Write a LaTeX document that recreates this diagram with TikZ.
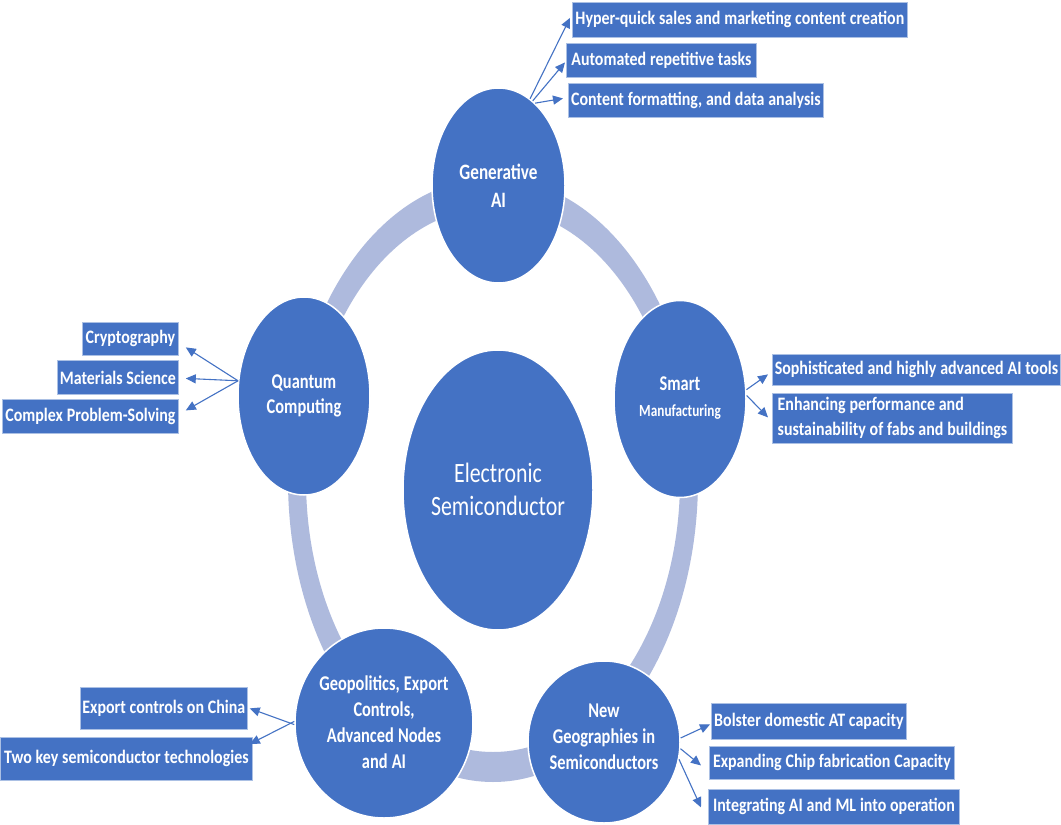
\documentclass[tikz,border=0pt]{standalone}
\usepackage{fontspec}
\usetikzlibrary{shapes.geometric,arrows.meta,calc}
\newfontfamily\lab{Carlito}[FakeStretch=0.84]
\newfontfamily\blab{Carlito}[FakeStretch=0.78]
\newcommand{\labsp}{\spaceskip=0.2em plus 0.05em minus 0.05em\relax}
\definecolor{nodeblue}{RGB}{68,114,196}
\definecolor{ringc}{RGB}{174,186,221}
\tikzset{
  bubble/.style={ellipse, fill=nodeblue, draw=white, line width=1.5pt, inner sep=0pt},
  btext/.style={text=white, align=center, inner sep=0pt,
    font=\blab\bfseries\fontsize{21}{26}\selectfont\labsp},
  lbox/.style={rectangle, fill=nodeblue, draw=white!55!nodeblue, line width=0.8pt,
    text=white, anchor=north west, inner xsep=2pt, inner ysep=0pt, align=center,
    font=\lab\bfseries\fontsize{19}{24}\selectfont\labsp},
  arr/.style={draw=nodeblue, line width=1.1pt, -{Triangle[length=10pt,width=9pt]}},
}
\begin{document}
\begin{tikzpicture}[x=1pt,y=-1pt]
\fill[white] (0,0) rectangle (1061,825);
\useasboundingbox (0,0) rectangle (1061,825);
% ring
\fill[ringc, even odd rule] (493,480) ellipse [x radius=205pt, y radius=302pt]
  (493,480) ellipse [x radius=187pt, y radius=272pt];
% bubbles
\node[bubble, minimum width=190pt, minimum height=280pt] (c) at (498,490) {};
\node[btext, font=\blab\fontsize{28}{33}\selectfont\labsp] (ct) at (498,489) {Electronic\\Semiconductor};
\node[bubble, minimum width=133pt, minimum height=195pt] (gen) at (498.5,185.5) {};
\node[btext, font=\blab\bfseries\fontsize{22}{28}\selectfont\labsp] (gent) at (498.5,186) {Generative\\AI};
\node[bubble, minimum width=132pt, minimum height=197pt] (smart) at (680,399) {};
\node[btext] (smartt) at (680,398) {Smart\\{\fontsize{17}{21}\selectfont Manufacturing}};
\node[bubble, minimum width=132pt, minimum height=198pt] (quant) at (304,396) {};
\node[btext, font=\blab\bfseries\fontsize{21}{25}\selectfont\labsp] (quantt) at (304,396) {Quantum\\Computing};
\node[bubble, minimum width=178pt, minimum height=190pt] (geo) at (384,723) {};
\node[btext] (geot) at (384,722) {Geopolitics, Export\\Controls,\\Advanced Nodes\\and AI};
\node[bubble, minimum width=152pt, minimum height=162pt] (ng) at (604,742) {};
\node[btext] (ngt) at (604,737) {New\\Geographies in\\Semiconductors};
% boxes
\node[lbox, minimum width=335pt, minimum height=35pt] (b1) at (572,2) {Hyper-quick sales and marketing content creation};
\node[lbox, minimum width=190pt, minimum height=34pt] (b2) at (566,43) {Automated repetitive tasks};
\node[lbox, minimum width=255pt, minimum height=34pt] (b3) at (568,83) {Content formatting, and data analysis};
\node[lbox, minimum width=96pt, minimum height=33pt] (q1) at (82,322) {Cryptography};
\node[lbox, minimum width=121pt, minimum height=34pt] (q2) at (57,360) {Materials Science};
\node[lbox, minimum width=176pt, minimum height=34pt] (q3) at (2,399) {Complex Problem-Solving};
\node[lbox, minimum width=288pt, minimum height=31pt] (s1) at (772,354) {Sophisticated and highly advanced AI tools};
\node[lbox, minimum width=240pt, minimum height=50pt, align=left, font=\lab\bfseries\fontsize{19}{25}\selectfont\labsp] (s2) at (772,393) {Enhancing performance and\\ sustainability of fabs and buildings};
\node[lbox, minimum width=166pt, minimum height=42pt] (g1) at (80,687) {Export controls on China};
\node[lbox, minimum width=252pt, minimum height=43pt] (g2) at (0,737) {Two key semiconductor technologies};
\node[lbox, minimum width=195pt, minimum height=36pt] (n1) at (711,703) {Bolster domestic AT capacity};
\node[lbox, minimum width=245pt, minimum height=33pt] (n2) at (709,746) {Expanding Chip fabrication Capacity};
\node[lbox, minimum width=251pt, minimum height=35pt] (n3) at (708,789) {Integrating AI and ML into operation};
% arrows
\draw[arr] (gen.70) -- ($(b1.west)+(-2,-2)$);
\draw[arr] (gen.68) -- ($(b2.west)+(-1,2)$);
\draw[arr] (gen.66) -- ($(b3.west)+(-5,-2)$);
\draw[arr] (quant.167) -- ($(q1.east)+(7,8.5)$);
\draw[arr] (quant.167) -- ($(q2.east)+(7,1)$);
\draw[arr] (quant.167) -- ($(q3.east)+(7,-6)$);
\draw[arr] (smart.8) -- ($(s1.west)+(-4,4.5)$);
\draw[arr] (smart.3) -- ($(s2.west)+(-4,-1)$);
\draw[arr] (geo.181) -- ($(g1.east)+(2,0)$);
\draw[arr] (geo.179) -- ($(g2.north east)+(-3,7)$);
\draw[arr] (ng.3) -- ($(n1.west)+(-1,3)$);
\draw[arr] (ng.-5) -- ($(n2.west)+(-8,2.5)$);
\draw[arr] (ng.-13) -- ($(n3.west)+(-7,0.5)$);
\end{tikzpicture}
\end{document}
